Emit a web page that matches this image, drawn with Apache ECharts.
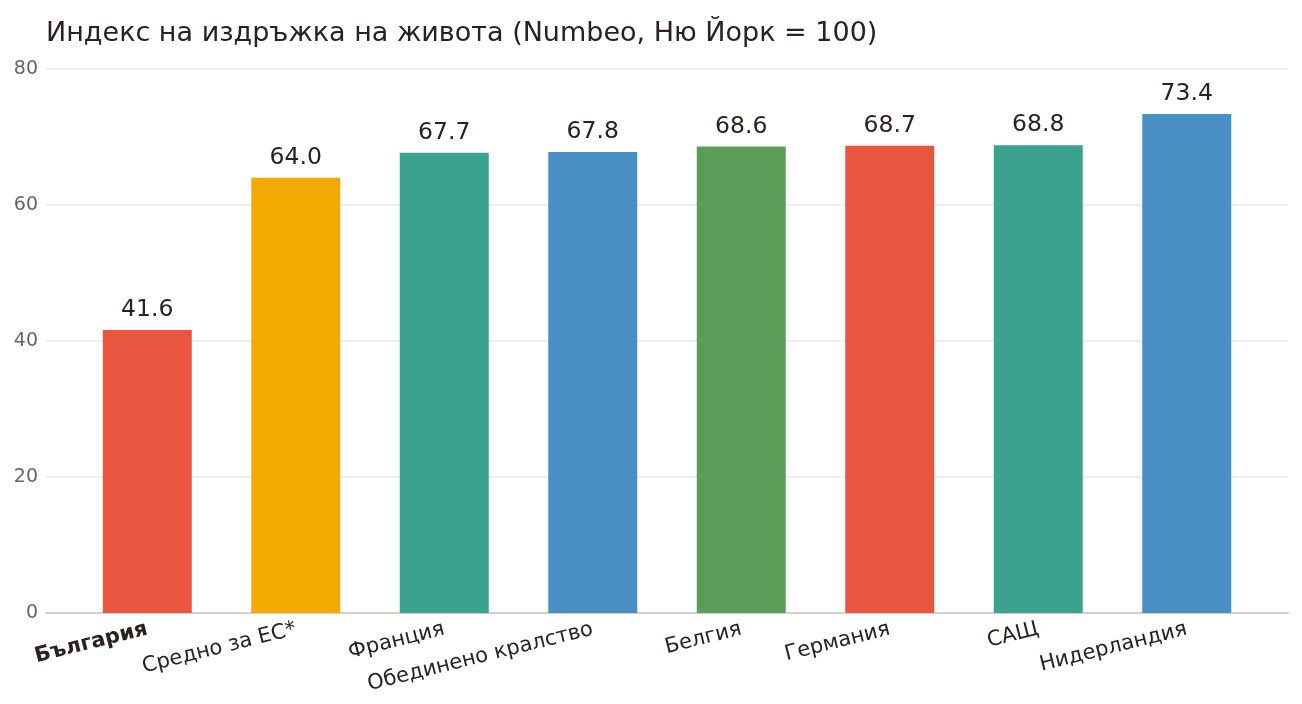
<!DOCTYPE html>
<html>
<head>
<meta charset="utf-8">
<script src="https://cdn.jsdelivr.net/npm/echarts@6/dist/echarts.min.js"></script>
<style>
  html, body { margin: 0; padding: 0; background: #fff; }
  #main { width: 1302px; height: 704px; }
</style>
</head>
<body>
<div id="main"></div>
<script>
var countries = ['България', 'Средно за ЕС*', 'Франция', 'Обединено кралство', 'Белгия', 'Германия', 'САЩ', 'Нидерландия'];
var values = [41.6, 64.0, 67.7, 67.8, 68.6, 68.7, 68.8, 73.4];
var barColors = ['#E9553F', '#F2AA00', '#3BA28E', '#4A8FC4', '#5B9E59', '#E9553F', '#3BA28E', '#4A8FC4'];
var yTicks = [0, 20, 40, 60, 80];

(function () {
    var myChart = echarts.init(document.getElementById('main'));
    var font = 'DejaVu Sans';
    var option = {
        backgroundColor: '#fff',
        animation: false,
        textStyle: { fontFamily: font },
        title: {
            text: 'Индекс на издръжка на живота (Numbeo, Ню Йорк = 100)',
            left: 41,
            top: 15,
            textStyle: { fontFamily: font, fontSize: 27, fontWeight: 'normal', color: '#2b211f' }
        },
        grid: [
            { left: 73, right: 41, top: 69, bottom: 91 },
            { left: 46, right: 14, top: 69, bottom: 91 }
        ],
        xAxis: [
            {
                type: 'category',
                gridIndex: 0,
                data: countries,
                axisLine: { show: false },
                axisTick: { show: false },
                axisLabel: {
                    rotate: 14,
                    margin: 16,
                    fontSize: 21,
                    color: '#2b211f',
                    fontFamily: font,
                    formatter: function (v, i) {
                        return i === 0 ? '{b|' + v + '}' : v;
                    },
                    rich: { b: { fontWeight: 'bold', fontSize: 21, color: '#2b211f', fontFamily: font } }
                }
            },
            {
                type: 'value',
                gridIndex: 1,
                min: 0,
                max: 1,
                axisLine: { show: true, onZero: false, lineStyle: { color: '#d4d1ca', width: 2 } },
                axisTick: { show: false },
                axisLabel: { show: false },
                splitLine: { show: false }
            }
        ],
        yAxis: [
            {
                type: 'value',
                gridIndex: 0,
                min: yTicks[0],
                max: yTicks[yTicks.length - 1],
                interval: 20,
                axisLabel: { show: false },
                axisLine: { show: false },
                axisTick: { show: false },
                splitLine: { show: false }
            },
            {
                type: 'value',
                gridIndex: 1,
                min: yTicks[0],
                max: yTicks[yTicks.length - 1],
                interval: 20,
                axisLine: { show: false },
                axisTick: { show: false },
                axisLabel: { fontSize: 19, color: '#6b6460', margin: 8, fontFamily: font },
                splitLine: { lineStyle: { color: '#e8e8e4', width: 1.5 } }
            }
        ],
        series: [
            {
                type: 'bar',
                xAxisIndex: 0,
                yAxisIndex: 0,
                barWidth: 89,
                z: 3,
                data: values.map(function (v, i) {
                    return { value: v, itemStyle: { color: barColors[i] } };
                }),
                label: {
                    show: true,
                    position: 'top',
                    distance: 8,
                    fontSize: 23.5,
                    color: '#2b211f',
                    fontFamily: font,
                    formatter: function (p) { return p.value.toFixed(1); }
                }
            }
        ]
    };
    myChart.setOption(option);
})();
</script>
</body>
</html>
